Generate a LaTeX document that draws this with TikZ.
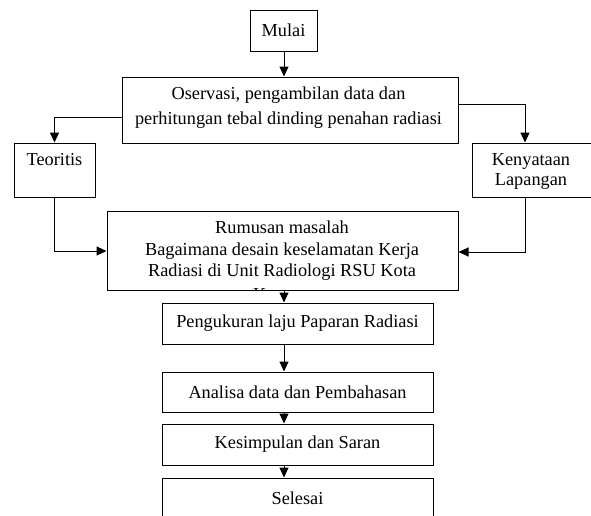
\documentclass[tikz,border=0pt]{standalone}
\usepackage{fontspec}
\setmainfont{Liberation Serif}
\usetikzlibrary{positioning, arrows.meta}

\begin{document}
\begin{tikzpicture}[x=1pt, y=-1pt,
            box/.style={draw, line width=1pt, inner sep=0pt, font=\fontsize{18.3}{22}\selectfont},
            boxtext/.style={anchor=north, align=center, inner sep=0pt, font=\fontsize{18.3}{22}\selectfont},
            flow/.style={-{Triangle[length=10pt, width=9pt]}, line width=1pt}
        ]
            \useasboundingbox (0,0) rectangle (591,515);

            % upper part
            \node (mulai) [box, minimum width=67pt, minimum height=41pt] at (283.5,30.5) {Mulai};
            \node (obs) [box, minimum width=336pt, minimum height=66pt] at (290,110) {};
            \node (obstext) [boxtext, font=\fontsize{18.3}{24.5}\selectfont] at (288.5,87) {Oservasi, pengambilan data dan\\perhitungan tebal dinding penahan radiasi};
            \node (teori) [box, minimum width=81pt, minimum height=54pt] at (54.5,170) {};
            \node (teoritext) [boxtext] at (54.5,153) {Teoritis};
            \node (nyata) [box, minimum width=120pt, minimum height=54pt] at (532,170) {};
            \node (nyatatext) [boxtext, font=\fontsize{18.3}{20.5}\selectfont] at (531,153) {Kenyataan\\Lapangan};

            % rumusan, last line cut by the box
            \node (rumus) [box, minimum width=351pt, minimum height=79pt] at (282.5,250.5) {};
            \begin{scope}
                \clip (rumus.north west) rectangle (rumus.south east);
                \node (rumustext) [boxtext, font=\fontsize{18.3}{21.5}\selectfont] at (282,221) {Rumusan masalah\\Bagaimana desain keselamatan Kerja\\Radiasi di Unit Radiologi RSU Kota\\[2.5pt]Kupang};
            \end{scope}

            % lower part
            \node (ukur) [box, minimum width=271pt, minimum height=41pt] at (297.5,323.5) {Pengukuran laju Paparan Radiasi};
            \node (analisa) [box, minimum width=271pt, minimum height=40pt] at (297.5,392) {Analisa data dan Pembahasan};
            \node (simpul) [box, minimum width=271pt, minimum height=41pt] at (297.5,444.5) {Kesimpulan dan Saran};
            \node (selesai) [box, minimum width=271pt, minimum height=40pt] at (297.5,498) {Selesai};

            \coordinate (obsL) at (obs.west |- 0,117);
            \coordinate (obsR) at (obs.east |- 0,104);
            \coordinate (rumusL) at (rumus.west |- 0,251);
            \coordinate (rumusR) at (rumus.east |- 0,252);

            \draw[flow] (mulai.south -| 284,0) -- (obs.north -| 284,0);
            \draw[flow] (obsL) -| (teori.north);
            \draw[flow] (obsR) -| (nyata.north -| 525,0);
            \draw[flow] (teori.south) |- (rumusL);
            \draw[flow] (nyata.south -| 525,0) |- (rumusR);
            \draw[flow] (rumus.south -| 284,0) -- (ukur.north -| 284,0);
            \draw[flow] (ukur.south -| 284,0) -- (analisa.north -| 284,0);
            \draw[flow] (analisa.south -| 284,0) -- (simpul.north -| 284,0);
            \draw[flow] (simpul.south -| 284,0) -- (selesai.north -| 284,0);
        \end{tikzpicture}
\end{document}
